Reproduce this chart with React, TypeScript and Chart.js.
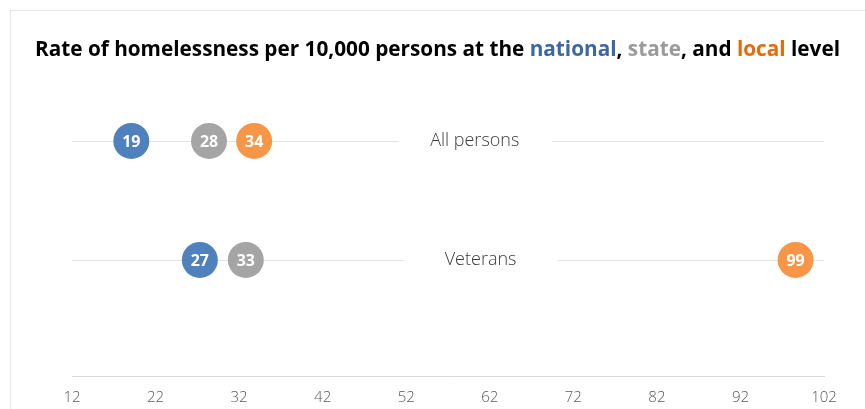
import React, { useEffect, useRef } from "react";
import { Chart, registerables } from "chart.js";

Chart.register(...registerables);

const categories = ["All persons", "Veterans"];
const nationalValues = [19.1, 27.3];
const stateValues = [28.4, 32.8];
const localValues = [33.8, 98.6];
const labelCenters = [60.2, 60.9];
const xMin = 12;
const xMax = 102;
const xStep = 10;

const seriesNames = ["national", "state", "local"];
const seriesColors = ["#4f81bd", "#a5a5a5", "#f79646"];

const titleParts = [
  { text: "Rate of homelessness per 10,000 persons at the ", color: "#000000" },
  { text: "national", color: "#3c679f" },
  { text: ", ", color: "#000000" },
  { text: "state", color: "#9a9a9a" },
  { text: ", and ", color: "#000000" },
  { text: "local", color: "#e46c0a" },
  { text: " level", color: "#000000" },
];

const rowY = (i: number) => categories.length - i;

const rowsPlugin = {
  id: "rows",
  beforeDatasetsDraw(chart: any) {
    const { ctx, chartArea, scales } = chart;
    const xs = scales.x;
    const ys = scales.y;
    ctx.save();
    categories.forEach((cat, i) => {
      const y = Math.round(ys.getPixelForValue(rowY(i))) + 0.5;
      const cx = xs.getPixelForValue(labelCenters[i]);
      const half = 77;
      ctx.strokeStyle = "#e3e3e3";
      ctx.lineWidth = 1;
      ctx.beginPath();
      ctx.moveTo(chartArea.left, y);
      ctx.lineTo(cx - half, y);
      ctx.moveTo(cx + half, y);
      ctx.lineTo(chartArea.right, y);
      ctx.stroke();
      ctx.fillStyle = "#3a3a3a";
      ctx.font = '300 18px "Open Sans", "Noto Sans", sans-serif';
      ctx.textAlign = "center";
      ctx.textBaseline = "middle";
      ctx.fillText(cat, cx, y - 1);
    });
    ctx.restore();
  },
  afterDatasetsDraw(chart: any) {
    const { ctx } = chart;
    ctx.save();
    ctx.fillStyle = "#ffffff";
    ctx.font = 'bold 16px "Open Sans", "Noto Sans", sans-serif';
    ctx.textAlign = "center";
    ctx.textBaseline = "middle";
    chart.data.datasets.forEach((ds: any, di: number) => {
      const meta = chart.getDatasetMeta(di);
      meta.data.forEach((pt: any, j: number) => {
        const v = ds.data[j].x;
        ctx.fillText(String(Math.round(v)), pt.x, pt.y + 1);
      });
    });
    ctx.restore();
  },
  afterDraw(chart: any) {
    const { ctx } = chart;
    ctx.save();
    ctx.font = 'bold 22px "Open Sans", "Noto Sans", sans-serif';
    ctx.textBaseline = "alphabetic";
    ctx.textAlign = "left";
    let total = 0;
    titleParts.forEach((p) => (total += ctx.measureText(p.text).width));
    const targetLeft = 35;
    const targetWidth = 805;
    const sx = targetWidth / total;
    ctx.translate(targetLeft, 56);
    ctx.scale(sx, 1);
    let x = 0;
    titleParts.forEach((p) => {
      ctx.fillStyle = p.color;
      ctx.fillText(p.text, x, 0);
      x += ctx.measureText(p.text).width;
    });
    ctx.restore();
  },
};

export default function App() {
  const canvasRef = useRef<HTMLCanvasElement | null>(null);

  useEffect(() => {
    document.body.style.margin = "0";
    document.body.style.overflow = "hidden";
    const canvas = canvasRef.current;
    if (!canvas) return;
    const valueSets = [nationalValues, stateValues, localValues];
    const chart = new Chart(canvas, {
      type: "scatter",
      data: {
        datasets: seriesNames.map((name, si) => ({
          label: name,
          data: categories.map((_, i) => ({ x: valueSets[si][i], y: rowY(i) })),
          backgroundColor: seriesColors[si],
          borderColor: seriesColors[si],
          pointRadius: 18,
          pointBorderWidth: 0,
          pointHoverRadius: 18,
        })),
      },
      options: {
        animation: false,
        responsive: true,
        maintainAspectRatio: false,
        events: [],
        layout: { padding: { left: 72, right: 41, top: 81.5, bottom: -11 } },
        plugins: {
          legend: { display: false },
          title: { display: false },
          tooltip: { enabled: false },
        },
        scales: {
          x: {
            type: "linear",
            min: xMin,
            max: xMax,
            grid: { display: false, drawTicks: false, tickLength: 0 },
            border: { display: true, color: "#d9d9d9", width: 1 },
            ticks: {
              stepSize: xStep,
              padding: 13,
              color: "#595959",
              font: { family: '"Open Sans", "Noto Sans", sans-serif', size: 15, weight: "300" },
            },
          },
          y: {
            type: "linear",
            display: false,
            min: 0.025,
            max: 2.5,
          },
        },
      },
      plugins: [rowsPlugin],
    });
    return () => chart.destroy();
  }, []);

  return (
    <div style={{ position: "fixed", left: 0, top: 0, width: 865, height: 409, background: "#ffffff" }}>
      <div
        style={{
          position: "absolute",
          left: 10,
          top: 10,
          right: 0,
          bottom: 0,
          borderTop: "1px solid #e6e6e6",
          borderLeft: "1px solid #e6e6e6",
        }}
      />
      <div style={{ position: "absolute", left: 0, top: 0, width: 865, height: 409 }}>
        <canvas ref={canvasRef} />
      </div>
    </div>
  );
}
